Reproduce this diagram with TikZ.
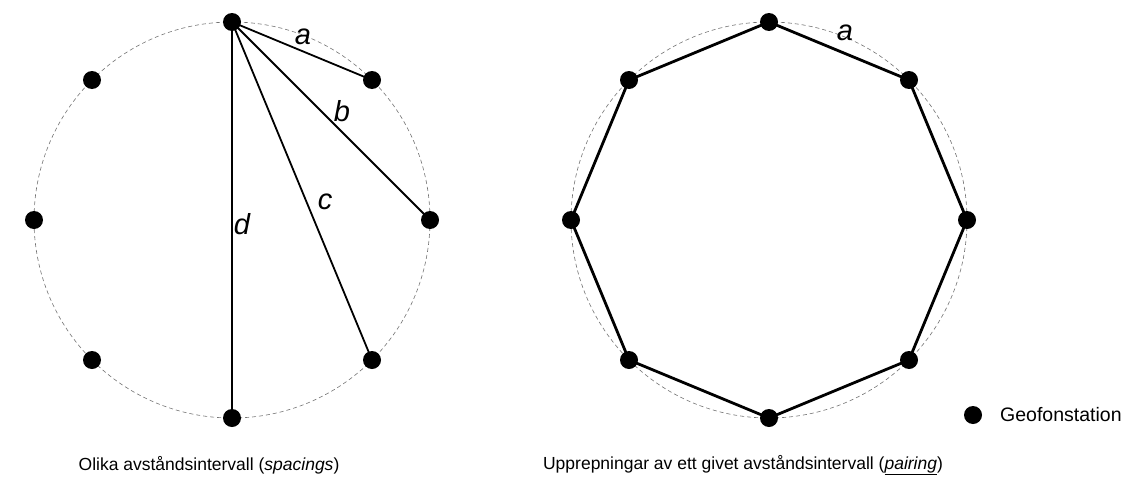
\documentclass[tikz,border=0pt]{standalone}
\usepackage{fontspec}
\setmainfont{Liberation Sans}
\begin{document}
\begin{tikzpicture}[x=1pt,y=-1pt,
  station/.style={circle,fill=black,inner sep=0pt,minimum size=18pt},
  guide/.style={draw=black!55,dash pattern=on 4pt off 3pt,line width=0.6pt},
  chord/.style={line width=1.8pt},
  edge/.style={line width=2.8pt},
  lbl/.style={font=\fontsize{29}{32}\selectfont\itshape,inner sep=0pt},
  captext/.style={font=\fontsize{17.5}{20}\selectfont,inner sep=0pt},
  keytextstyle/.style={font=\fontsize{19.5}{22}\selectfont,inner sep=0pt}]
\useasboundingbox[fill=white] (0,0) rectangle (1127,479);
% left circle
\draw[guide] (232,220) circle[radius=198];
\coordinate (L1) at (232,22);
\coordinate (L2) at (372,80);
\coordinate (L3) at (430,220);
\coordinate (L4) at (372,360);
\coordinate (L5) at (232,418);
\coordinate (L6) at (92,360);
\coordinate (L7) at (34,220);
\coordinate (L8) at (92,80);
\draw[chord] (L1) -- (L2);
\draw[chord] (L1) -- (L3);
\draw[chord] (L1) -- (L4);
\draw[chord] (L1) -- (L5);
\foreach \i in {1,...,8} \node[station] (l\i) at (L\i) {};
\node[lbl] (la) at (303,37) {a};
\node[lbl] (lb) at (342,111) {b};
\node[lbl] (lc) at (325,202) {c};
\node[lbl] (ld) at (242,224) {d};
% right circle
\draw[guide] (769,220) circle[radius=198];
\coordinate (R1) at (769,22);
\coordinate (R2) at (909,80);
\coordinate (R3) at (967,220);
\coordinate (R4) at (909,360);
\coordinate (R5) at (769,418);
\coordinate (R6) at (629,360);
\coordinate (R7) at (571,220);
\coordinate (R8) at (629,80);
\draw[edge,line join=round] (R1) -- (R2) -- (R3) -- (R4) -- (R5) -- (R6) -- (R7) -- (R8) -- cycle;
\foreach \i in {1,...,8} \node[station] (r\i) at (R\i) {};
\node[lbl] (ra) at (845,33) {a};
% legend
\node[station] (key) at (973,415) {};
\node[keytextstyle,anchor=west] (keytext) at (1000,415) {Geofonstation};
% captions
\node[captext] (capl) at (209,465) {Olika avståndsintervall (\textit{spacings})};
\node[captext] (capr) at (743,465) {Upprepningar av ett givet avståndsintervall (\underline{\textit{pairing}})};
\end{tikzpicture}
\end{document}
